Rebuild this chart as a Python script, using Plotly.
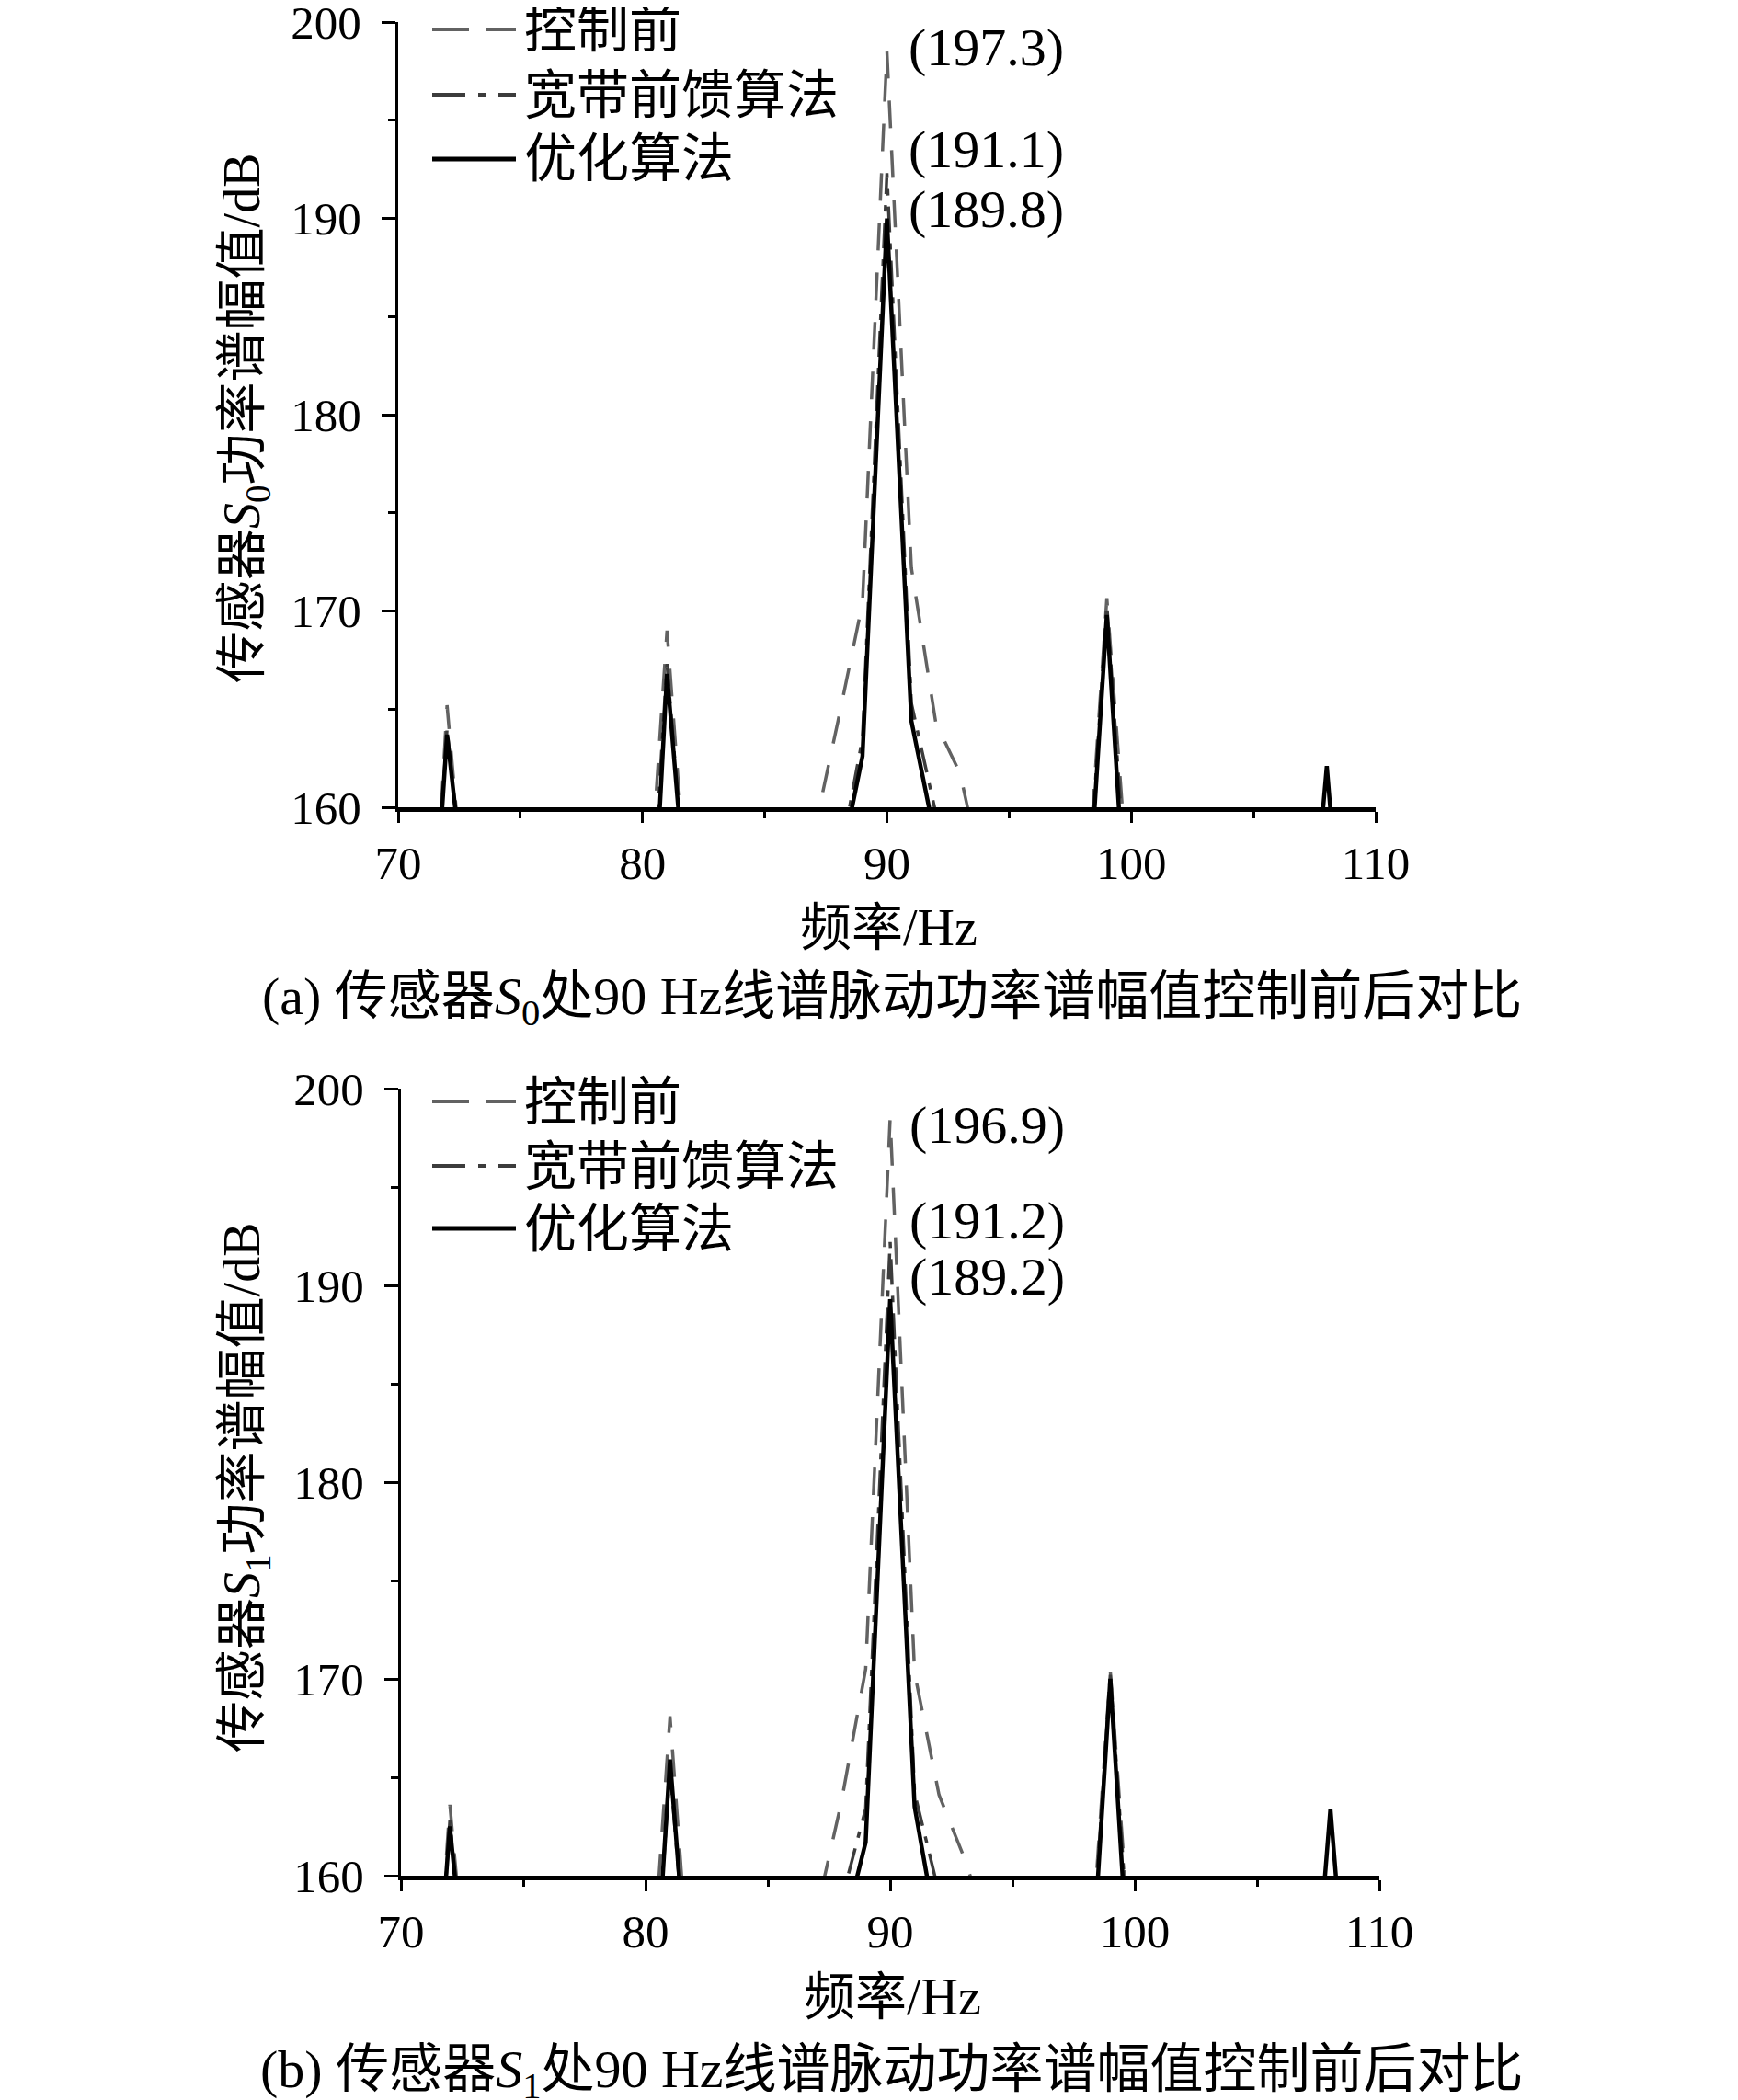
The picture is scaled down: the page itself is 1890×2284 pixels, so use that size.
import plotly.graph_objects as go

# ---------------- data ----------------
freq = [70, 71, 72, 73, 74, 75, 76, 77, 78, 79, 80, 81, 82, 83, 84, 85, 86, 87, 88, 89, 90,
        91, 92, 93, 94, 95, 96, 97, 98, 99, 100, 101, 102, 103, 104, 105, 106, 107, 108, 109, 110]

a_before = [146, 143, 165.2, 151, 147, 145, 146, 144, 145, 147, 150.3, 169.0, 152.3, 148, 147, 149, 152, 158.6, 164.4, 170.4, 198.5,
            172.2, 164.3, 161.7, 156, 151, 148, 147, 152, 170.65, 153.8, 148, 146, 145, 144, 145, 146, 148, 152, 148, 145]
a_wide = [145, 144, 164.0, 152, 146, 144, 145, 143, 144, 145, 147, 167.3, 152, 147, 146, 147, 149, 151, 156.9, 163.5, 192.3,
          165.3, 159.7, 153, 150, 148, 146, 146, 151, 170.3, 152, 147, 145, 144, 143, 144, 145, 147, 150, 146, 144]
a_opt = [144, 145, 163.7, 152.5, 146, 143, 144, 142, 143, 144, 143.5, 166.8, 152, 146, 145, 146, 148, 151, 156.5, 162.6, 190.0,
         164.4, 158.3, 152, 148, 146, 145, 145, 150.2, 169.8, 149.8, 146, 144, 143, 142, 143, 144, 148, 162.1, 147, 143]

b_before = [146, 145, 163.6, 150, 146, 144, 145, 144, 145, 147, 150, 168.1, 151, 147, 146, 148, 152, 158.2, 163.7, 170.5, 198.5,
            170.3, 164.1, 161.0, 157.3, 151, 148, 147, 152, 170.4, 153, 148, 146, 145, 144, 145, 146, 148, 151, 147, 145]
b_wide = [145, 144, 162.8, 150, 145, 144, 144, 143, 144, 145, 147, 165.5, 150, 146, 145, 146, 148, 151, 158.7, 163.4, 192.2,
          164.2, 159.1, 153, 150, 148, 146, 146, 151, 170.2, 152, 147, 145, 144, 143, 144, 145, 147, 151, 146, 144]
b_opt = [144, 146, 162.5, 150, 145, 143, 144, 142, 143, 144, 146, 165.9, 150, 146, 145, 146, 148, 151, 156.7, 161.7, 189.3,
         163.5, 156.5, 151, 148, 146, 145, 145, 150, 170.0, 150, 146, 144, 143, 142, 143, 144, 148, 163.4, 148, 143]

series_names = ["控制前", "宽带前馈算法", "优化算法"]
peak_labels_a = ["(197.3)", "(191.1)", "(189.8)"]
peak_labels_b = ["(196.9)", "(191.2)", "(189.2)"]
x_ticks = [70, 80, 90, 100, 110]
y_ticks = [160, 170, 180, 190, 200]

y_title_a = "传感器<i>S</i><sub>0</sub>功率谱幅值/dB"
y_title_b = "传感器<i>S</i><sub>1</sub>功率谱幅值/dB"
x_title = "频率/Hz"
caption_a = "(a) 传感器<i>S</i><sub>0</sub>处90 Hz线谱脉动功率谱幅值控制前后对比"
caption_b = "(b) 传感器<i>S</i><sub>1</sub>处90 Hz线谱脉动功率谱幅值控制前后对比"

# ---------------- style ----------------
W, H = 1890, 2284
FONT = "Liberation Serif, Times New Roman, Noto Sans CJK SC, serif"
FS_TICK = 51
FS_TITLE = 56
FS_LEG = 57
FS_ANN = 58
FS_CAP = 58
styles = [
    dict(color="#626262", width=3.5, dash="30px,24px", legdash="40px,18px"),
    dict(color="#3c3c3c", width=3.5, dash="28px,12px,7px,12px", legdash="36px,14px,8px,14px"),
    dict(color="#000000", width=4.5, dash="solid", legdash="solid"),
]

fig = go.Figure()

def add_panel(xa, ya, data):
    for name, vals, st in zip(series_names, data, styles):
        fig.add_trace(go.Scatter(
            x=freq, y=vals, mode="lines", name=name,
            line=dict(color=st["color"], width=st["width"], dash=st["dash"]),
            xaxis=xa, yaxis=ya, showlegend=False,
        ))

add_panel("x", "y", [a_before, a_wide, a_opt])
add_panel("x2", "y2", [b_before, b_wide, b_opt])

def xaxis_style(domain, anchor):
    return dict(
        domain=domain, anchor=anchor, range=[70, 110], automargin=False,
        tickvals=x_ticks, ticks="outside", ticklen=12, tickwidth=3, tickcolor="black",
        minor=dict(dtick=5, ticks="outside", ticklen=7, tickwidth=3, tickcolor="black"),
        showline=True, linecolor="black", linewidth=5,
        showgrid=False, zeroline=False, ticklabeloverflow="allow",
        tickfont=dict(family=FONT, size=FS_TICK, color="black"),
        ticklabelstandoff=0,
    )

def yaxis_style(domain, anchor):
    return dict(
        domain=domain, anchor=anchor, range=[160, 200], automargin=False,
        tickvals=y_ticks, ticks="outside", ticklen=15, tickwidth=3, tickcolor="black",
        minor=dict(dtick=5, ticks="outside", ticklen=8, tickwidth=3, tickcolor="black"),
        showline=True, linecolor="black", linewidth=3,
        showgrid=False, zeroline=False, ticklabeloverflow="allow",
        tickfont=dict(family=FONT, size=FS_TICK, color="black"),
        ticklabelstandoff=12,
    )

xa_dom = [425 / W, 1488 / W]
xb_dom = [428 / W, 1492 / W]
ya_dom = [1 - 870 / H, 1 - 16 / H]
yb_dom = [1 - 2032 / H, 1 - 1176 / H]

fig.update_layout(
    width=W, height=H,
    margin=dict(l=0, r=0, t=0, b=0, autoexpand=False),
    paper_bgcolor="white", plot_bgcolor="white",
    font=dict(family=FONT, size=FS_TICK, color="black"),
    xaxis=xaxis_style(xa_dom, "y"),
    yaxis=yaxis_style(ya_dom, "x"),
    xaxis2=xaxis_style(xb_dom, "y2"),
    yaxis2=yaxis_style(yb_dom, "x2"),
    showlegend=False,
)

def paper_text(txt, x_px, y_px, size, angle=0, xanchor="center"):
    fig.add_annotation(x=x_px / W, y=1 - y_px / H, xref="paper", yref="paper", text=txt,
                       showarrow=False, xanchor=xanchor, yanchor="middle", textangle=angle,
                       font=dict(family=FONT, size=size, color="black"))

# legends (one per panel)
def add_legend(rows_px, x0=462, x1=553, xt=560):
    for name, st, yp in zip(series_names, styles, rows_px):
        fig.add_shape(type="line", xref="paper", yref="paper",
                      x0=x0 / W, x1=x1 / W, y0=1 - yp / H, y1=1 - yp / H,
                      line=dict(color=st["color"], width=st["width"] + 0.5, dash=st["legdash"]))
        paper_text(name, xt, yp, FS_LEG, xanchor="left")

add_legend([24, 95, 165])
add_legend([1190, 1260, 1328])

# axis titles
paper_text(y_title_a, 259, 447, FS_TITLE, -90)
paper_text(y_title_b, 259, 1610, FS_TITLE, -90)
paper_text(x_title, 958, 1001, FS_TITLE)
paper_text(x_title, 962, 2164, FS_TITLE)

# peak value labels
for txt, yv in zip(peak_labels_a, [198.7, 193.5, 190.45]):
    fig.add_annotation(x=90.82, y=yv, xref="x", yref="y", text=txt, showarrow=False,
                       xanchor="left", yanchor="middle",
                       font=dict(family=FONT, size=FS_ANN, color="black"))
for txt, yv in zip(peak_labels_b, [198.15, 193.3, 190.45]):
    fig.add_annotation(x=90.7, y=yv, xref="x2", yref="y2", text=txt, showarrow=False,
                       xanchor="left", yanchor="middle",
                       font=dict(family=FONT, size=FS_ANN, color="black"))

# captions
paper_text(caption_a, 962, 1079, FS_CAP)
paper_text(caption_b, 962, 2246, FS_CAP)

fig.write_html("out.html")
